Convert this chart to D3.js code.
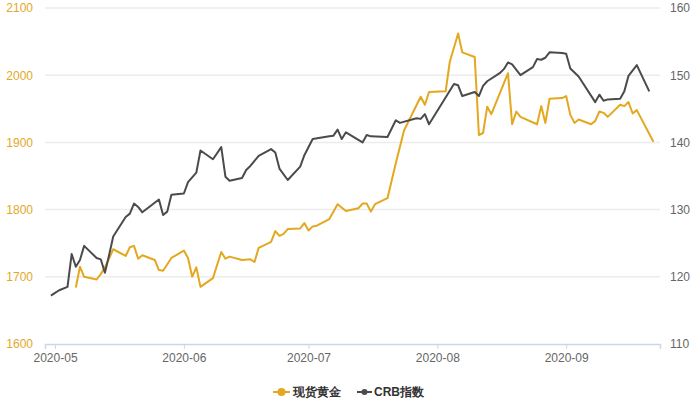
<!DOCTYPE html>
<html>
<head>
<meta charset="utf-8">
<script src="https://cdn.jsdelivr.net/npm/d3@7"></script>
<style>
  body { margin: 0; background: #fff; }
  #chart { width: 700px; height: 400px; }
  text { font-family: "Liberation Sans", Arial, sans-serif; }
</style>
</head>
<body>
<div id="chart"></div>
<script>
// datos
const goldDates = ["2020-05-06","2020-05-07","2020-05-08","2020-05-11","2020-05-12","2020-05-13","2020-05-14","2020-05-15",
  "2020-05-18","2020-05-19","2020-05-20","2020-05-21","2020-05-22","2020-05-25","2020-05-26","2020-05-27","2020-05-29",
  "2020-06-01","2020-06-02","2020-06-03","2020-06-04","2020-06-05","2020-06-08","2020-06-10","2020-06-11","2020-06-12",
  "2020-06-15","2020-06-17","2020-06-18","2020-06-19","2020-06-22","2020-06-23","2020-06-24","2020-06-25","2020-06-26",
  "2020-06-29","2020-06-30","2020-07-01","2020-07-02","2020-07-03","2020-07-06","2020-07-08","2020-07-10","2020-07-13",
  "2020-07-14","2020-07-15","2020-07-16","2020-07-17","2020-07-20","2020-07-22","2020-07-24","2020-07-28","2020-07-29",
  "2020-07-30","2020-08-03","2020-08-04","2020-08-06","2020-08-07","2020-08-10","2020-08-11","2020-08-12","2020-08-13",
  "2020-08-14","2020-08-18","2020-08-19","2020-08-20","2020-08-21","2020-08-25","2020-08-26","2020-08-27","2020-08-28",
  "2020-08-31","2020-09-01","2020-09-02","2020-09-03","2020-09-04","2020-09-07","2020-09-08","2020-09-09","2020-09-10",
  "2020-09-11","2020-09-14","2020-09-15","2020-09-16","2020-09-17","2020-09-18","2020-09-22"];
const goldValues = [1684,1715,1700,1696,1704,1714,1727,1741,
  1731,1744,1746,1727,1732,1725,1710,1709,1728,
  1739,1728,1700,1714,1685,1698,1737,1727,1730,
  1725,1726,1722,1743,1752,1768,1761,1764,1771,
  1772,1780,1769,1775,1776,1786,1808,1798,1802,
  1809,1809,1797,1808,1817,1869,1918,1968,1956,
  1975,1976,2020,2062,2034,2027,1911,1914,1953,
  1942,2003,1927,1946,1938,1927,1954,1929,1965,
  1966,1969,1941,1929,1934,1927,1932,1946,1944,
  1938,1956,1954,1960,1943,1948,1901];

const crbDates = ["2020-04-30","2020-05-01","2020-05-02","2020-05-04","2020-05-05","2020-05-06","2020-05-07","2020-05-08",
  "2020-05-11","2020-05-12","2020-05-13","2020-05-14","2020-05-15","2020-05-18","2020-05-19","2020-05-20","2020-05-21",
  "2020-05-22","2020-05-26","2020-05-27","2020-05-28","2020-05-29","2020-06-01","2020-06-02","2020-06-04","2020-06-05",
  "2020-06-08","2020-06-10","2020-06-11","2020-06-12","2020-06-15","2020-06-16","2020-06-17","2020-06-19","2020-06-22",
  "2020-06-23","2020-06-24","2020-06-26","2020-06-29","2020-06-30","2020-07-02","2020-07-06","2020-07-07","2020-07-08",
  "2020-07-09","2020-07-10","2020-07-14","2020-07-15","2020-07-16","2020-07-20","2020-07-22","2020-07-23","2020-07-27",
  "2020-07-28","2020-07-29","2020-07-30","2020-08-05","2020-08-06","2020-08-07","2020-08-10","2020-08-11","2020-08-12",
  "2020-08-13","2020-08-16","2020-08-17","2020-08-18","2020-08-19","2020-08-21","2020-08-24","2020-08-25","2020-08-26",
  "2020-08-27","2020-08-28","2020-08-31","2020-09-01","2020-09-02","2020-09-04","2020-09-08","2020-09-09","2020-09-10",
  "2020-09-11","2020-09-14","2020-09-15","2020-09-16","2020-09-18","2020-09-21"];
const crbValues = [117.2,117.6,118.0,118.5,123.4,121.5,122.5,124.6,
  122.8,122.6,120.6,123.2,126.0,128.9,129.4,130.9,130.4,
  129.6,131.5,129.2,129.7,132.2,132.4,134.1,135.5,138.8,
  137.5,139.3,134.9,134.3,134.7,135.9,136.5,138.0,139.0,
  138.5,136.1,134.4,136.4,138.1,140.5,140.9,141.0,141.9,
  140.5,141.5,140.0,141.1,140.9,140.8,143.3,142.9,143.6,
  143.5,144.2,142.7,148.7,148.5,146.9,147.5,146.9,148.4,
  149.1,150.3,150.9,151.9,151.6,150.0,151.2,152.4,152.3,
  152.6,153.4,153.3,153.2,151.0,149.8,146.0,147.1,146.2,
  146.4,146.5,147.6,149.9,151.5,147.6];

const leftTicks = [1600, 1700, 1800, 1900, 2000, 2100];
const rightTicks = [110, 120, 130, 140, 150, 160];
const seriesNames = ["现货黄金", "CRB指数"];

const goldColor = "#e3a81f";
const crbColor = "#4b4b4b";

const parse = d3.timeParse("%Y-%m-%d");
const gold = goldDates.map((d, i) => ({ date: parse(d), value: goldValues[i] }));
const crb = crbDates.map((d, i) => ({ date: parse(d), value: crbValues[i] }));

const svg = d3.select("#chart").append("svg")
  .attr("width", 700)
  .attr("height", 400);

const plot = { left: 45, right: 660, top: 8, bottom: 344 };

const x = d3.scaleTime()
  .domain([new Date(2020, 3, 28, 14), new Date(2020, 8, 23, 14)])
  .range([plot.left, plot.right]);

const yL = d3.scaleLinear().domain([1600, 2100]).range([plot.bottom, plot.top]);
const yR = d3.scaleLinear().domain([110, 160]).range([plot.bottom, plot.top]);

// lineas de cuadricula
svg.append("g")
  .selectAll("line")
  .data(leftTicks.slice(1))
  .enter()
  .append("line")
  .attr("x1", plot.left)
  .attr("x2", plot.right)
  .attr("y1", d => yL(d))
  .attr("y2", d => yL(d))
  .attr("stroke", "#ececec")
  .attr("stroke-width", 1.5);

// eje izquierdo
const axL = svg.append("g")
  .attr("transform", `translate(${plot.left},0)`)
  .call(d3.axisLeft(yL).tickValues(leftTicks).tickFormat(d3.format("d")).tickSize(0).tickPadding(12));
axL.select(".domain").remove();
axL.selectAll("text")
  .attr("fill", goldColor)
  .style("font-size", "12px");

// eje derecho
const axR = svg.append("g")
  .attr("transform", `translate(${plot.right},0)`)
  .call(d3.axisRight(yR).tickValues(rightTicks).tickSize(0).tickPadding(10));
axR.select(".domain").remove();
axR.selectAll("text")
  .attr("fill", "#666")
  .style("font-size", "12px");

// eje x
const axX = svg.append("g")
  .attr("transform", `translate(0,${plot.bottom})`)
  .call(d3.axisBottom(x)
    .ticks(d3.timeMonth.every(1))
    .tickFormat(d3.timeFormat("%Y-%m"))
    .tickSizeOuter(0)
    .tickSize(5)
    .tickPadding(4));
axX.select(".domain").attr("stroke", "#ccd6eb").attr("stroke-width", 1.5);
axX.selectAll(".tick line").attr("stroke", "#ccd6eb");
axX.selectAll("text")
  .attr("fill", "#666")
  .style("font-size", "12px");

// lineas de datos
const lineGold = d3.line().x(d => x(d.date)).y(d => yL(d.value));
const lineCrb = d3.line().x(d => x(d.date)).y(d => yR(d.value));

svg.append("path")
  .datum(gold)
  .attr("fill", "none")
  .attr("stroke", goldColor)
  .attr("stroke-width", 2)
  .attr("stroke-linejoin", "round")
  .attr("d", lineGold);

svg.append("path")
  .datum(crb)
  .attr("fill", "none")
  .attr("stroke", crbColor)
  .attr("stroke-width", 2)
  .attr("stroke-linejoin", "round")
  .attr("d", lineCrb);

// leyenda
const legend = svg.append("g").attr("transform", "translate(0,392)");

legend.append("line")
  .attr("x1", 273).attr("x2", 290).attr("y1", 0).attr("y2", 0)
  .attr("stroke", goldColor).attr("stroke-width", 2);
legend.append("circle")
  .attr("cx", 281.5).attr("cy", 0).attr("r", 4)
  .attr("fill", goldColor);
legend.append("text")
  .attr("x", 293).attr("y", 0).attr("dy", "0.35em")
  .attr("fill", "#333")
  .style("font-size", "12px")
  .style("font-weight", "bold")
  .text(seriesNames[0]);

legend.append("line")
  .attr("x1", 357).attr("x2", 372).attr("y1", 0).attr("y2", 0)
  .attr("stroke", crbColor).attr("stroke-width", 2);
legend.append("circle")
  .attr("cx", 364.5).attr("cy", 0).attr("r", 3)
  .attr("fill", crbColor);
legend.append("text")
  .attr("x", 374).attr("y", 0).attr("dy", "0.35em")
  .attr("fill", "#333")
  .style("font-size", "12px")
  .style("font-weight", "bold")
  .text(seriesNames[1]);
</script>
</body>
</html>
